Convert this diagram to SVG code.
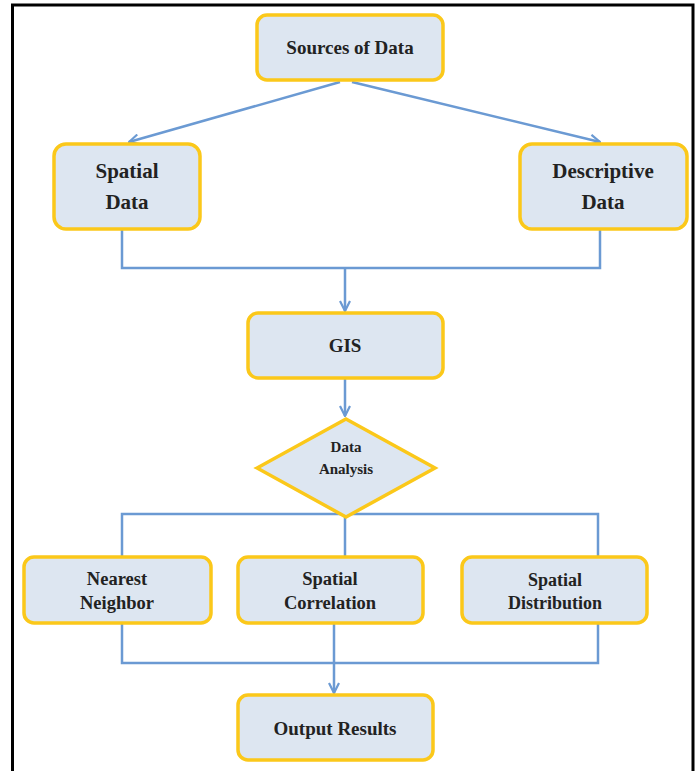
<svg xmlns="http://www.w3.org/2000/svg" width="699" height="771" viewBox="0 0 699 771">
<style>
.box{fill:#dde6f1;stroke:#fbc81a;stroke-width:3.5}
.con{fill:none;stroke:#6b9ad3;stroke-width:2.5}
.t{font-family:'Liberation Serif','DejaVu Serif',serif;font-weight:700;fill:#222;text-anchor:middle}
</style>
<defs>
<marker id="arr" viewBox="0 0 12 12" refX="11" refY="6" markerWidth="12" markerHeight="12" markerUnits="userSpaceOnUse" orient="auto">
<path d="M1,1 L11,6 L1,11" fill="none" stroke="#6b9ad3" stroke-width="2.2"/>
</marker>
</defs>
<rect width="699" height="771" fill="#fff"/>
<path d="M12.5,771 V5 H693 V771" fill="none" stroke="#000" stroke-width="3"/>
<g id="connectors">
<path class="con" d="M340,82 L129,142" marker-end="url(#arr)"/>
<path class="con" d="M352,82 L600,142" marker-end="url(#arr)"/>
<path class="con" d="M122,229 V268 H600 V229"/>
<path class="con" d="M345,268 V311" marker-end="url(#arr)"/>
<path class="con" d="M345,378 V416" marker-end="url(#arr)"/>
<path class="con" d="M122,557 V514 H598 V557 M345,514 V557"/>
<path class="con" d="M122,623 V663 H598 V623 M334,623 V663"/>
<path class="con" d="M334,663 V693" marker-end="url(#arr)"/>
</g>
<g id="sources">
<rect class="box" x="257" y="15" width="186" height="65" rx="10"/>
<text class="t" x="350" y="54" font-size="19">Sources of Data</text>
</g>
<g id="spatial">
<rect class="box" x="54" y="144" width="146" height="85" rx="12"/>
<text class="t" x="127" y="178" font-size="21">Spatial</text>
<text class="t" x="127" y="209" font-size="21">Data</text>
</g>
<g id="descriptive">
<rect class="box" x="520" y="144" width="167" height="85" rx="12"/>
<text class="t" x="603" y="178" font-size="21">Descriptive</text>
<text class="t" x="603" y="209" font-size="21">Data</text>
</g>
<g id="gis">
<rect class="box" x="248" y="313" width="195" height="65" rx="10"/>
<text class="t" x="345" y="352" font-size="19">GIS</text>
</g>
<g id="analysis">
<path class="box" d="M346,419 L435,468 L346,517 L257,468 Z"/>
<text class="t" x="346" y="452" font-size="15">Data</text>
<text class="t" x="346" y="474" font-size="15">Analysis</text>
</g>
<g id="nearest">
<rect class="box" x="24" y="557" width="187" height="66" rx="10"/>
<text class="t" x="117" y="585" font-size="18.5">Nearest</text>
<text class="t" x="117" y="609" font-size="18.5">Neighbor</text>
</g>
<g id="correlation">
<rect class="box" x="238" y="557" width="185" height="66" rx="10"/>
<text class="t" x="330" y="585" font-size="18.5">Spatial</text>
<text class="t" x="330" y="609" font-size="18.5">Correlation</text>
</g>
<g id="distribution">
<rect class="box" x="462" y="557" width="185" height="66" rx="10"/>
<text class="t" x="555" y="586" font-size="18">Spatial</text>
<text class="t" x="555" y="609" font-size="18">Distribution</text>
</g>
<g id="output">
<rect class="box" x="238" y="695" width="195" height="65" rx="10"/>
<text class="t" x="335" y="735" font-size="19">Output Results</text>
</g>
</svg>
